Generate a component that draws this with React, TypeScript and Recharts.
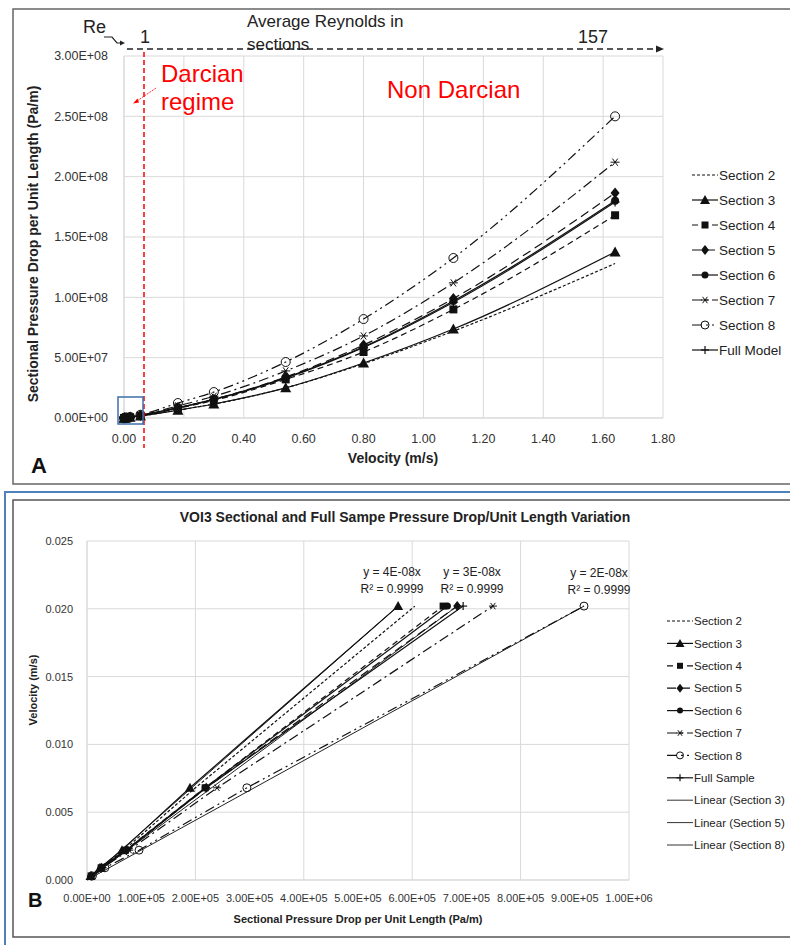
import React from "react";
import { ScatterChart, Scatter, XAxis, YAxis, CartesianGrid } from "recharts";

// velocities (m/s) shared by every section
const velocity = [0.0003, 0.0009, 0.0022, 0.0068, 0.0202, 0.055, 0.18, 0.3, 0.54, 0.8, 1.1, 1.64];

// sectional pressure drop per unit length (Pa/m)
const section2 = [7e3, 2.5e4, 6.8e4, 2.0e5, 6.05e5, 1.7e6, 6.5e6, 1.15e7, 2.5e7, 4.5e7, 7.2e7, 1.28e8];
const section3 = [6.5e3, 2.4e4, 6.45e4, 1.9e5, 5.74e5, 1.7e6, 6.5e6, 1.16e7, 2.5e7, 4.56e7, 7.37e7, 1.376e8];
const section4 = [7.5e3, 2.6e4, 7.1e4, 2.18e5, 6.57e5, 2.0e6, 8.0e6, 1.45e7, 3.2e7, 5.47e7, 9.0e7, 1.68e8];
const section5 = [7.7e3, 2.7e4, 7.3e4, 2.2e5, 6.83e5, 2.1e6, 8.5e6, 1.55e7, 3.4e7, 6.05e7, 9.9e7, 1.865e8];
const section6 = [7.6e3, 2.65e4, 7.2e4, 2.18e5, 6.65e5, 2.1e6, 8.5e6, 1.55e7, 3.35e7, 5.9e7, 9.7e7, 1.8e8];
const section7 = [8.5e3, 2.9e4, 7.8e4, 2.4e5, 7.49e5, 2.3e6, 1.0e7, 1.8e7, 3.9e7, 6.8e7, 1.12e8, 2.12e8];
const section8 = [1.0e4, 3.3e4, 9.6e4, 2.95e5, 9.17e5, 2.7e6, 1.24e7, 2.15e7, 4.64e7, 8.2e7, 1.326e8, 2.5e8];
const fullModel = [7.7e3, 2.7e4, 7.3e4, 2.2e5, 6.94e5, 2.1e6, 8.4e6, 1.52e7, 3.3e7, 5.85e7, 9.6e7, 1.79e8];

// panel B only uses the low velocity points
const lowCount = 5;

// linear trendlines in panel B (end points through origin)
const trendNames = ["Linear (Section 3)", "Linear (Section 5)", "Linear (Section 8)"];
const trendEndPressure = [5.74e5, 6.83e5, 9.17e5];
const trendEndVelocity = [0.0202, 0.0202, 0.0202];

const xTicksA = [0, 0.2, 0.4, 0.6, 0.8, 1.0, 1.2, 1.4, 1.6, 1.8];
const yTicksA = [0, 5e7, 1e8, 1.5e8, 2e8, 2.5e8, 3e8];
const xTicksB = [0, 1e5, 2e5, 3e5, 4e5, 5e5, 6e5, 7e5, 8e5, 9e5, 1e6];
const yTicksB = [0, 0.005, 0.01, 0.015, 0.02, 0.025];

const FONT = "'Liberation Sans', Arial, sans-serif";
const GRID = "#d9d9d9";
const INK = "#111";

type Kind = "none" | "dash" | "tri" | "square" | "diamond" | "dot" | "star" | "ring" | "plus";

const series: { a: string; b: string; values: number[]; dash: string; kind: Kind; kindB: Kind }[] = [
  { a: "Section 2", b: "Section 2", values: section2, dash: "3 2", kind: "none", kindB: "none" },
  { a: "Section 3", b: "Section 3", values: section3, dash: "", kind: "tri", kindB: "tri" },
  { a: "Section 4", b: "Section 4", values: section4, dash: "6 4", kind: "square", kindB: "square" },
  { a: "Section 5", b: "Section 5", values: section5, dash: "9 5", kind: "diamond", kindB: "diamond" },
  { a: "Section 6", b: "Section 6", values: section6, dash: "", kind: "dot", kindB: "dot" },
  { a: "Section 7", b: "Section 7", values: section7, dash: "10 4 2 4", kind: "star", kindB: "star" },
  { a: "Section 8", b: "Section 8", values: section8, dash: "10 4 2 4 2 4", kind: "ring", kindB: "ring" },
  { a: "Full Model", b: "Full Sample", values: fullModel, dash: "", kind: "plus", kindB: "plus" },
];

const sci = (v: number) => {
  const [m, e] = v.toExponential(2).split("e");
  const n = parseInt(e, 10);
  return `${m}E${n < 0 ? "-" : "+"}${String(Math.abs(n)).padStart(2, "0")}`;
};

function marker(kind: Kind, cx: number, cy: number, s: number) {
  const h = s / 2;
  switch (kind) {
    case "tri":
      return <polygon points={`${cx},${cy - h - 1} ${cx - h - 1},${cy + h} ${cx + h + 1},${cy + h}`} fill={INK} />;
    case "square":
      return <rect x={cx - h + 0.5} y={cy - h + 0.5} width={s - 1} height={s - 1} fill={INK} />;
    case "diamond":
      return <polygon points={`${cx},${cy - h - 1} ${cx + h},${cy} ${cx},${cy + h + 1} ${cx - h},${cy}`} fill={INK} />;
    case "dot":
      return <circle cx={cx} cy={cy} r={h - 0.5} fill={INK} />;
    case "star":
      return (
        <g stroke={INK} strokeWidth={1}>
          <line x1={cx - h} y1={cy} x2={cx + h} y2={cy} />
          <line x1={cx - h * 0.6} y1={cy - h * 0.8} x2={cx + h * 0.6} y2={cy + h * 0.8} />
          <line x1={cx - h * 0.6} y1={cy + h * 0.8} x2={cx + h * 0.6} y2={cy - h * 0.8} />
        </g>
      );
    case "ring":
      return <circle cx={cx} cy={cy} r={h} fill="none" stroke={INK} strokeWidth={1} />;
    case "plus":
      return (
        <g stroke={INK} strokeWidth={1.2}>
          <line x1={cx - h} y1={cy} x2={cx + h} y2={cy} />
          <line x1={cx} y1={cy - h} x2={cx} y2={cy + h} />
        </g>
      );
    case "dash":
      return <line x1={cx - h} y1={cy} x2={cx + h} y2={cy} stroke={INK} strokeWidth={1.5} />;
    default:
      return <g />;
  }
}

const tickA = { fill: "#333", fontSize: 12.5, fontFamily: FONT };
const tickB = { fill: "#333", fontSize: 11, fontFamily: FONT };

function ChartA() {
  return (
    <ScatterChart width={790} height={484} margin={{ top: 56, right: 127, bottom: 36, left: 0 }}>
      <CartesianGrid stroke={GRID} />
      <XAxis
        type="number"
        dataKey="x"
        domain={[0, 1.8]}
        ticks={xTicksA}
        tickFormatter={(v: number) => v.toFixed(2)}
        tick={tickA}
        tickLine={false}
        tickMargin={10}
        axisLine={{ stroke: GRID }}
        height={30}
      />
      <YAxis
        type="number"
        dataKey="y"
        domain={[0, 3e8]}
        ticks={yTicksA}
        tickFormatter={sci}
        tick={tickA}
        tickLine={false}
        tickMargin={10}
        axisLine={{ stroke: GRID }}
        width={124}
      />
      {series.map((s) => (
        <Scatter
          key={s.a}
          name={s.a}
          data={velocity.map((v, i) => ({ x: v, y: s.values[i] }))}
          fill={INK}
          line={{ stroke: INK, strokeWidth: 1.2, strokeDasharray: s.dash }}
          lineJointType="monotoneX"
          shape={(p: any) => marker(s.kind, p.cx, p.cy, 9)}
          isAnimationActive={false}
        />
      ))}
    </ScatterChart>
  );
}

function ChartB() {
  return (
    <ScatterChart width={790} height={453} margin={{ top: 49, right: 161, bottom: 35, left: 0 }}>
      <CartesianGrid stroke={GRID} />
      <XAxis
        type="number"
        dataKey="x"
        domain={[0, 1e6]}
        ticks={xTicksB}
        tickFormatter={sci}
        tick={tickB}
        tickLine={false}
        tickMargin={8}
        axisLine={{ stroke: GRID }}
        height={30}
      />
      <YAxis
        type="number"
        dataKey="y"
        domain={[0, 0.025]}
        ticks={yTicksB}
        tickFormatter={(v: number) => v.toFixed(3)}
        tick={tickB}
        tickLine={false}
        tickMargin={8}
        axisLine={{ stroke: GRID }}
        width={87}
      />
      {trendNames.map((n, i) => (
        <Scatter
          key={n}
          name={n}
          data={[
            { x: 0, y: 0 },
            { x: trendEndPressure[i], y: trendEndVelocity[i] },
          ]}
          fill={INK}
          line={{ stroke: "#222", strokeWidth: 1 }}
          shape={() => <g />}
          isAnimationActive={false}
        />
      ))}
      {series.map((s) => (
        <Scatter
          key={s.b}
          name={s.b}
          data={velocity.slice(0, lowCount).map((v, i) => ({ x: s.values[i], y: v }))}
          fill={INK}
          line={{ stroke: INK, strokeWidth: 1.2, strokeDasharray: s.dash }}
          shape={(p: any) => marker(s.kindB, p.cx, p.cy, 8)}
          isAnimationActive={false}
        />
      ))}
    </ScatterChart>
  );
}

function LegendRows({ x, y0, step, rows, size, font }: { x: number; y0: number; step: number; rows: { label: string; dash: string; kind: Kind; thin?: boolean }[]; size: number; font: number }) {
  return (
    <g>
      {rows.map((r, i) => {
        const y = y0 + i * step;
        return (
          <g key={r.label}>
            <line x1={x} y1={y} x2={x + 26} y2={y} stroke={r.thin ? "#333" : INK} strokeWidth={r.thin ? 1 : 1.2} strokeDasharray={r.dash} />
            {marker(r.kind, x + 13, y, size)}
            <text x={x + 27} y={y + font * 0.36} fontSize={font} fontFamily={FONT} fill="#222">
              {r.label}
            </text>
          </g>
        );
      })}
    </g>
  );
}

function Overlay() {
  const legendA = series.map((s) => ({ label: s.a, dash: s.dash, kind: s.kind }));
  const legendB = [
    ...series.map((s) => ({ label: s.b, dash: s.dash, kind: s.kindB })),
    ...trendNames.map((n) => ({ label: n, dash: "", kind: "none" as Kind, thin: true })),
  ];
  return (
    <svg width={790} height={945} style={{ position: "absolute", left: 0, top: 0, pointerEvents: "none" }}>
      {/* panel A frame */}
      <rect x={13} y={9} width={790} height={475} fill="none" stroke="#666" strokeWidth={1.5} />
      {/* panel B frames */}
      <rect x={5} y={492} width={800} height={470} fill="none" stroke="#4f81bd" strokeWidth={2} />
      <rect x={13} y={500} width={800} height={437} fill="none" stroke="#555" strokeWidth={1.5} />

      {/* Reynolds annotation */}
      <text x={83} y={33} fontSize={18} fontFamily={FONT} fill="#222">Re</text>
      <path d="M104 37 L112 37 L117 43 L121 43" fill="none" stroke="#222" strokeWidth={1.2} />
      <polygon points="120,40.5 125,43 120,45.5" fill="#222" />
      <text x={140} y={43} fontSize={18} fontFamily={FONT} fill="#222">1</text>
      <text x={247} y={27} fontSize={17} fontFamily={FONT} fill="#222">Average Reynolds in</text>
      <text x={247} y={50} fontSize={17} fontFamily={FONT} fill="#222">sections</text>
      <text x={578} y={43} fontSize={18} fontFamily={FONT} fill="#222">157</text>
      <line x1={127} y1={49} x2={657} y2={49} stroke="#222" strokeWidth={1.3} strokeDasharray="6 4" />
      <polygon points="656,45.5 664,49 656,52.5" fill="#222" />

      {/* Darcian boundary */}
      <line x1={144} y1={52} x2={144} y2={448} stroke="#f00" strokeWidth={1.5} strokeDasharray="5 3" />
      <text x={161} y={82} fontSize={24} fontFamily={FONT} fill="#f00">Darcian</text>
      <text x={161} y={110} fontSize={24} fontFamily={FONT} fill="#f00">regime</text>
      <line x1={156} y1={88} x2={137} y2={101} stroke="#f00" strokeWidth={0.8} strokeDasharray="2 1" />
      <polygon points="133,103.5 137.5,98.5 139,102.5" fill="#f00" />
      <text x={387} y={98} fontSize={24} fontFamily={FONT} fill="#f00">Non Darcian</text>
      <rect x={118} y={397} width={25} height={27} fill="none" stroke="#3d6fa8" strokeWidth={1.5} />

      {/* panel A titles */}
      <text transform="translate(38,244) rotate(-90)" textAnchor="middle" fontSize={14} fontWeight="bold" fontFamily={FONT} fill="#222">
        Sectional Pressure Drop per Unit Length (Pa/m)
      </text>
      <text x={393} y={463} textAnchor="middle" fontSize={14} fontWeight="bold" fontFamily={FONT} fill="#222">Velocity (m/s)</text>
      <text x={31} y={473} fontSize={22} fontWeight="bold" fontFamily={FONT} fill="#111">A</text>
      <LegendRows x={692} y0={175} step={25} rows={legendA} size={8} font={13.5} />

      {/* panel B titles */}
      <text x={405} y={522} textAnchor="middle" fontSize={14} fontWeight="bold" fontFamily={FONT} fill="#222">
        VOI3 Sectional and Full Sampe Pressure Drop/Unit Length Variation
      </text>
      <text x={392} y={576} textAnchor="middle" fontSize={12} fontFamily={FONT} fill="#222">y = 4E-08x</text>
      <text x={392} y={593} textAnchor="middle" fontSize={12} fontFamily={FONT} fill="#222">R² = 0.9999</text>
      <text x={472} y={576} textAnchor="middle" fontSize={12} fontFamily={FONT} fill="#222">y = 3E-08x</text>
      <text x={472} y={593} textAnchor="middle" fontSize={12} fontFamily={FONT} fill="#222">R² = 0.9999</text>
      <text x={599} y={577} textAnchor="middle" fontSize={12} fontFamily={FONT} fill="#222">y = 2E-08x</text>
      <text x={599} y={594} textAnchor="middle" fontSize={12} fontFamily={FONT} fill="#222">R² = 0.9999</text>
      <text transform="translate(37,690) rotate(-90)" textAnchor="middle" fontSize={11} fontWeight="bold" fontFamily={FONT} fill="#222">
        Velocity (m/s)
      </text>
      <text x={358} y={923} textAnchor="middle" fontSize={11} fontWeight="bold" fontFamily={FONT} fill="#222">
        Sectional Pressure Drop per Unit Length (Pa/m)
      </text>
      <text x={28} y={907} fontSize={20} fontWeight="bold" fontFamily={FONT} fill="#111">B</text>
      <LegendRows x={667} y0={621} step={22.4} rows={legendB} size={7} font={11.5} />
    </svg>
  );
}

export default function App() {
  return (
    <div style={{ position: "absolute", left: 0, top: 0, width: 790, height: 945, background: "#fff", overflow: "hidden", fontFamily: FONT }}>
      <div style={{ position: "absolute", left: 0, top: 0 }}>
        <ChartA />
      </div>
      <div style={{ position: "absolute", left: 0, top: 492 }}>
        <ChartB />
      </div>
      <Overlay />
    </div>
  );
}
